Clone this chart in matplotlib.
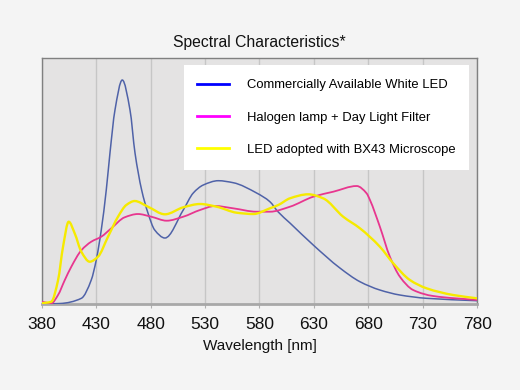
import matplotlib
matplotlib.use("Agg")
import numpy as np
import matplotlib.pyplot as plt
from matplotlib.lines import Line2D
from matplotlib.path import Path
from matplotlib.patches import PathPatch

plt.rcParams['font.family'] = ['Liberation Sans', 'DejaVu Sans']

# ---- data (relative intensity) ----
blue_nm = [380, 396.8, 416.4, 425.5, 430.1, 434.7, 439.3, 442.7, 447.3, 454.0,
           461.1, 465.7, 471.8, 477.6, 483.8, 493.2, 510.0, 519.2, 528.4, 542.2,
           555.9, 577.4, 589.6, 597.0, 608.0, 629.4, 653.9, 672.3, 690.6, 709.0,
           733.5, 780]
blue_val = [0.3, 0.8, 6, 24.3, 44.3, 74.3, 114.3, 151.3, 194.3, 224.3,
            194.3, 151.3, 114.3, 91.3, 74.3, 66.3, 94.3, 111.3, 119.3, 123.6,
            121.6, 111.3, 102.6, 92.6, 81.3, 59.3, 36.3, 22.6, 14.3, 9.3,
            6, 3.6]

pink_nm = [380, 388.8, 395.0, 401.1, 407.2, 416.4, 425.5, 434.7, 443.9, 456.2,
           468.4, 480.6, 494.8, 510.0, 525.4, 539.1, 555.9, 577.4, 589.6, 608.0,
           629.4, 647.8, 669.3, 678.4, 681.5, 690.6, 699.8, 709.0, 721.2, 739.6,
           780]
pink_val = [2.6, 1, 9.3, 24, 37.6, 54, 62.6, 67.6, 76, 87,
            90.3, 87.6, 83.6, 87.6, 94.3, 98.3, 96, 92.6, 92.6, 97.6,
            107.6, 112.6, 118.3, 111, 104.3, 77.6, 47.6, 27.6, 14.3, 8.3,
            4.3]

yellow_nm = [380, 388.8, 395.0, 399.6, 404.8, 410.3, 416.4, 424.1, 431.7, 440.9,
             450.1, 457.7, 465.4, 477.6, 493.2, 510.0, 525.4, 540.7, 559.1, 574.4,
             589.6, 597.3, 608.0, 624.8, 638.5, 656.9, 672.3, 690.6, 702.9, 718.2,
             733.5, 758.0, 780]
yellow_val = [1, 2.6, 24, 57.6, 82.6, 71, 52.6, 42.6, 47.6, 67.6,
              87.6, 99.3, 103.3, 97.6, 90, 97, 100.3, 97.6, 91.6, 90.3,
              96, 99.3, 106, 110, 106, 87.6, 76, 57.6, 41, 24.3,
              16, 9.3, 6]

labels = ["Commercially Available White LED",
          "Halogen lamp + Day Light Filter",
          "LED adopted with BX43 Microscope"]
xticks = [380, 430, 480, 530, 580, 630, 680, 730, 780]


def smooth_path(xs, ys):
    """Bezier path through the data points (monotone cubic tangents)."""
    x = np.asarray(xs, float)
    y = np.asarray(ys, float)
    h = np.diff(x)
    d = np.diff(y) / h
    m = np.zeros_like(y)
    m[0], m[-1] = d[0], d[-1]
    for i in range(1, len(x) - 1):
        if d[i - 1] * d[i] <= 0:
            m[i] = 0.0
        else:
            w1 = 2 * h[i] + h[i - 1]
            w2 = h[i] + 2 * h[i - 1]
            m[i] = (w1 + w2) / (w1 / d[i - 1] + w2 / d[i])
    verts = [(x[0], y[0])]
    codes = [Path.MOVETO]
    for i in range(len(x) - 1):
        verts += [(x[i] + h[i] / 3, y[i] + m[i] * h[i] / 3),
                  (x[i + 1] - h[i] / 3, y[i + 1] - m[i + 1] * h[i] / 3),
                  (x[i + 1], y[i + 1])]
        codes += [Path.CURVE4] * 3
    return Path(verts, codes)


fig = plt.figure(figsize=(5.2, 3.9), dpi=100, facecolor='#f4f4f4')
ax = fig.add_axes([0.0802, 0.2197, 0.8375, 0.6308])
ax.set_facecolor('#e4e3e3')

for xs, ys, col, lw, z in [(blue_nm, blue_val, '#4f62a8', 1.1, 3),
                           (pink_nm, pink_val, '#e8368f', 1.3, 3),
                           (yellow_nm, yellow_val, '#f6ea00', 1.7, 4)]:
    ax.add_patch(PathPatch(smooth_path(xs, ys), fill=False, edgecolor=col,
                           lw=lw, zorder=z, capstyle='round', joinstyle='round'))

ax.set_xlim(380, 780)
ax.set_ylim(0, 246)
ax.set_xticks(xticks)
ax.set_xticklabels([str(t) for t in xticks])
ax.set_yticks([])
ax.grid(axis='x', color='#c6c6c6', lw=1)
ax.set_axisbelow(True)
ax.tick_params(axis='x', length=3, color='#b0b0b0', labelsize=12.5, pad=6,
               labelcolor='#111111')
for s in ['left', 'top', 'right']:
    ax.spines[s].set_color('#808080')
    ax.spines[s].set_linewidth(1)
ax.spines['bottom'].set_color('#a8a8a8')
ax.spines['bottom'].set_linewidth(2)

ax.set_xlabel("Wavelength [nm]", fontsize=11, labelpad=5, color='#111111')
ax.set_title("Spectral Characteristics*", fontsize=11.3, pad=8, color='#111111')

handles = [Line2D([], [], color='#0000ff', lw=2),
           Line2D([], [], color='#ff00ff', lw=2),
           Line2D([], [], color='#ffff00', lw=2)]
leg = ax.legend(handles, labels, loc='upper left',
                bbox_to_anchor=(0.326, 0.9715), frameon=True, fancybox=False,
                facecolor='white', edgecolor='none', framealpha=1,
                fontsize=9.4, handlelength=2.4, handletextpad=1.38,
                borderpad=1.05, borderaxespad=0, labelspacing=1.55)
leg.set_zorder(10)

fig.savefig("out.png", dpi=100, facecolor=fig.get_facecolor())
